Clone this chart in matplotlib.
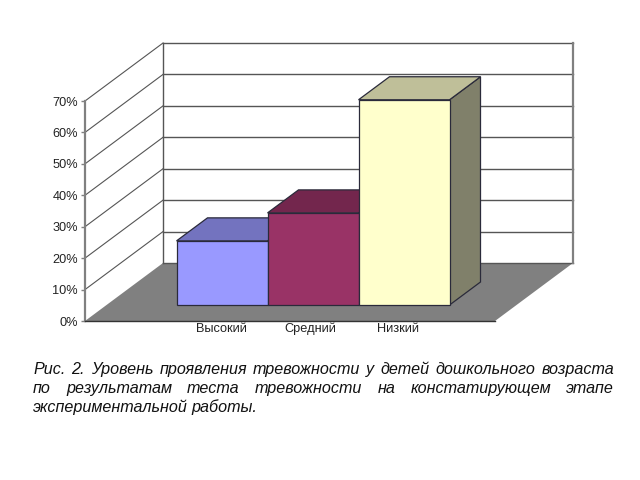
import numpy as np
import matplotlib
matplotlib.use("Agg")
import matplotlib.pyplot as plt
from matplotlib.patches import Polygon

plt.rcParams['font.family'] = ['Liberation Sans', 'DejaVu Sans']

categories = ["Высокий", "Средний", "Низкий"]
values = [20.4, 29.3, 65.3]
front_colors = ["#9999FF", "#993366", "#FFFFCC"]
top_colors = ["#7373BF", "#73264D", "#BFBF99"]
side_colors = ["#4D4D80", "#4D1A33", "#80806A"]
y_ticks = [0, 10, 20, 30, 40, 50, 60, 70]
y_labels = ["0%", "10%", "20%", "30%", "40%", "50%", "60%", "70%"]
caption = [
    "Рис. 2. Уровень проявления тревожности у детей дошкольного возраста",
    "по результатам теста тревожности на констатирующем этапе",
    "экспериментальной работы.",
]

# oblique projection: one unit of depth moves this far in data coords
DX = 0.857
DY = 18.45
X0 = -1.269
X1 = 3.236
YMAX = 70
BAR_FRONT = 0.276
BAR_BACK = 0.673
EDGE = "#2a2a3a"


def proj(x, y, d):
    return (x + d * DX, y + d * DY)


def face(ax, pts, color, z, edge=EDGE, lw=0.9):
    ax.add_patch(Polygon(pts, closed=True, facecolor=color, edgecolor=edge,
                         linewidth=lw, clip_on=False, zorder=z))


fig = plt.figure(figsize=(6.4, 4.8), dpi=100)
ax = fig.add_axes([85 / 640, (480 - 321) / 480, 410 / 640, 220 / 480])
ax.set_xlim(X0, X1)
ax.set_ylim(0, YMAX)

# floor and walls
face(ax, [proj(X0, 0, 0), proj(X1, 0, 0), proj(X1, 0, 1), proj(X0, 0, 1)], "#808080", 1, edge="none")
face(ax, [proj(X0, 0, 1), proj(X1, 0, 1), proj(X1, YMAX, 1), proj(X0, YMAX, 1)], "white", 1, edge="none")

for t in y_ticks:
    a = proj(X0, t, 0)
    b = proj(X0, t, 1)
    c = proj(X1, t, 1)
    if t > 0:
        ax.plot([a[0], b[0]], [a[1], b[1]], color="#555555", lw=0.8, clip_on=False, zorder=2)
    ax.plot([b[0], c[0]], [b[1], c[1]], color="#555555", lw=1.0, clip_on=False, zorder=2)
a = proj(X0, 0, 1)
b = proj(X0, YMAX, 1)
ax.plot([a[0], b[0]], [a[1], b[1]], color="#555555", lw=1.0, clip_on=False, zorder=2)
a = proj(X1, 0, 1)
b = proj(X1, YMAX, 1)
ax.plot([a[0], b[0]], [a[1], b[1]], color="#808080", lw=1.6, clip_on=False, zorder=2)

# bars
for i, v in enumerate(values):
    l = i - 0.5
    r = i + 0.5
    z = 3 + i
    face(ax, [proj(r, 0, BAR_FRONT), proj(r, 0, BAR_BACK), proj(r, v, BAR_BACK), proj(r, v, BAR_FRONT)],
         side_colors[i], z)
    face(ax, [proj(l, v, BAR_FRONT), proj(r, v, BAR_FRONT), proj(r, v, BAR_BACK), proj(l, v, BAR_BACK)],
         top_colors[i], z)
    face(ax, [proj(l, 0, BAR_FRONT), proj(r, 0, BAR_FRONT), proj(r, v, BAR_FRONT), proj(l, v, BAR_FRONT)],
         front_colors[i], z)

for s in ["top", "right"]:
    ax.spines[s].set_visible(False)
ax.spines["left"].set_color("#808080")
ax.spines["left"].set_linewidth(1.6)
ax.spines["bottom"].set_color("#333333")
ax.spines["bottom"].set_linewidth(1.0)
ax.patch.set_visible(False)

ax.set_yticks(y_ticks)
ax.set_yticklabels(y_labels, fontsize=9.2, color="#222222")
ax.tick_params(axis="y", length=3, width=1, color="#808080", pad=2)
ax.set_xticks([0.225, 1.203, 2.17])
ax.set_xticklabels(categories, fontsize=9.2, color="#222222", va="baseline")
ax.tick_params(axis="x", length=0, pad=8)

# caption, first two lines justified by hand
renderer = fig.canvas.get_renderer()
left = 33
right = 614
baselines = [374, 393, 412]
for n, line in enumerate(caption):
    words = line.split(" ")
    items = [fig.text(0, 1 - baselines[n] / 480, w, fontsize=11.6, style="italic", va="baseline",
                      color="#111111")
             for w in words]
    widths = [t.get_window_extent(renderer).width for t in items]
    if n < 2:
        gap = (right - left - sum(widths)) / (len(words) - 1)
    else:
        gap = 4
    x = left
    for t, w in zip(items, widths):
        t.set_x(x / 640)
        x += w + gap

fig.savefig("out.png", dpi=100)
